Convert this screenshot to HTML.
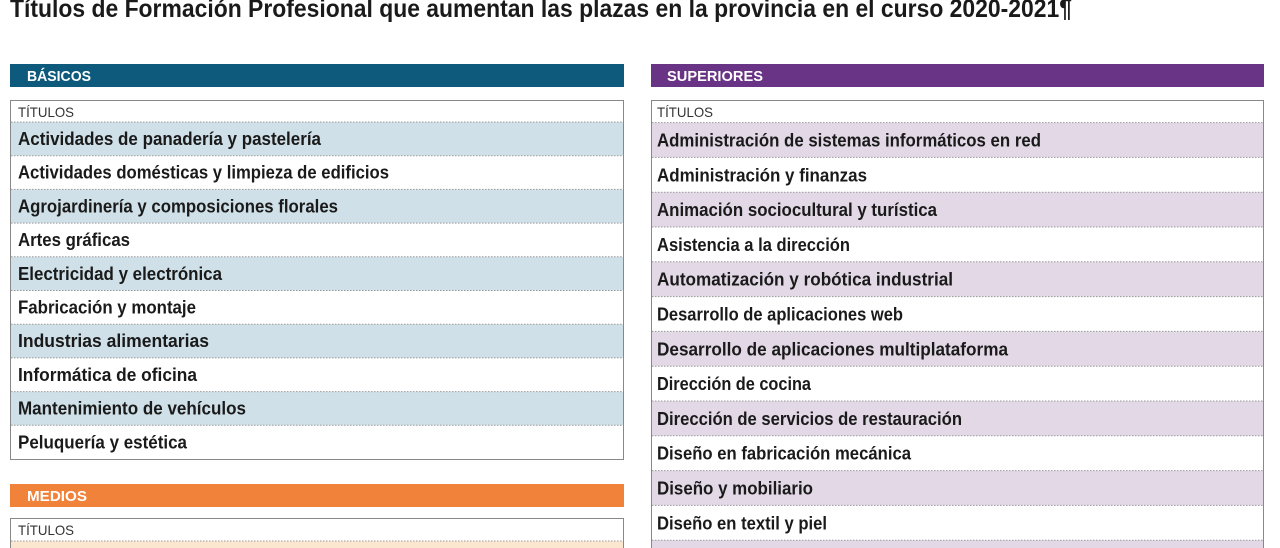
<!DOCTYPE html>
<html><head><meta charset="utf-8"><style>
html,body{margin:0;padding:0;background:#fff;width:1280px;height:548px;overflow:hidden}
svg{display:block}
.t{font-family:"Liberation Sans",sans-serif;font-weight:bold;font-size:18.5px;fill:#1a1a1a}
.h{font-family:"Liberation Sans",sans-serif;font-weight:bold;font-size:14.5px;fill:#fff}
.s{font-family:"Liberation Sans",sans-serif;font-size:14px;fill:#333}
</style></head><body>
<svg width="1280" height="548" xmlns="http://www.w3.org/2000/svg">
<text x="10" y="17" textLength="1062" lengthAdjust="spacingAndGlyphs" style="font-family:'Liberation Sans',sans-serif;font-weight:bold;font-size:25px;fill:#1a1a1a">Títulos de Formación Profesional que aumentan las plazas en la provincia en el curso 2020-2021¶</text>

<!-- BASICOS -->
<rect x="10" y="64" width="614" height="23" fill="#0d5a7c"/>
<text class="h" x="27" y="81" textLength="64" lengthAdjust="spacingAndGlyphs">BÁSICOS</text>
<rect x="10.5" y="100.5" width="613" height="359" fill="#fff" stroke="#888"/>
<text class="s" x="18" y="117" textLength="56" lengthAdjust="spacingAndGlyphs">TÍTULOS</text>
<g fill="#cfe0e8">
<rect x="11" y="122" width="612" height="33.7"/>
<rect x="11" y="189.4" width="612" height="33.7"/>
<rect x="11" y="256.8" width="612" height="33.7"/>
<rect x="11" y="324.2" width="612" height="33.7"/>
<rect x="11" y="391.6" width="612" height="33.7"/>
</g>
<g stroke="#999" stroke-dasharray="1.5,1.5">
<line x1="11" x2="623" y1="122" y2="122"/><line x1="11" x2="623" y1="155.7" y2="155.7"/>
<line x1="11" x2="623" y1="189.4" y2="189.4"/><line x1="11" x2="623" y1="223.1" y2="223.1"/>
<line x1="11" x2="623" y1="256.8" y2="256.8"/><line x1="11" x2="623" y1="290.5" y2="290.5"/>
<line x1="11" x2="623" y1="324.2" y2="324.2"/><line x1="11" x2="623" y1="357.9" y2="357.9"/>
<line x1="11" x2="623" y1="391.6" y2="391.6"/><line x1="11" x2="623" y1="425.3" y2="425.3"/>
</g>
<text class="t" x="18" y="145" textLength="303" lengthAdjust="spacingAndGlyphs">Actividades de panadería y pastelería</text>
<text class="t" x="18" y="178.7" textLength="371" lengthAdjust="spacingAndGlyphs">Actividades domésticas y limpieza de edificios</text>
<text class="t" x="18" y="212.4" textLength="320" lengthAdjust="spacingAndGlyphs">Agrojardinería y composiciones florales</text>
<text class="t" x="18" y="246.1" textLength="112" lengthAdjust="spacingAndGlyphs">Artes gráficas</text>
<text class="t" x="18" y="279.8" textLength="204" lengthAdjust="spacingAndGlyphs">Electricidad y electrónica</text>
<text class="t" x="18" y="313.5" textLength="178" lengthAdjust="spacingAndGlyphs">Fabricación y montaje</text>
<text class="t" x="18" y="347.2" textLength="191" lengthAdjust="spacingAndGlyphs">Industrias alimentarias</text>
<text class="t" x="18" y="380.9" textLength="179" lengthAdjust="spacingAndGlyphs">Informática de oficina</text>
<text class="t" x="18" y="414.6" textLength="228" lengthAdjust="spacingAndGlyphs">Mantenimiento de vehículos</text>
<text class="t" x="18" y="448.3" textLength="169" lengthAdjust="spacingAndGlyphs">Peluquería y estética</text>

<!-- MEDIOS -->
<rect x="10" y="484" width="614" height="23" fill="#f0823a"/>
<text class="h" x="27" y="501" textLength="60" lengthAdjust="spacingAndGlyphs">MEDIOS</text>
<rect x="10.5" y="518.5" width="613" height="40" fill="#fff" stroke="#888"/>
<text class="s" x="18" y="535" textLength="56" lengthAdjust="spacingAndGlyphs">TÍTULOS</text>
<rect x="11" y="541" width="612" height="10" fill="#fbe6cf"/>
<line x1="11" x2="623" y1="541" y2="541" stroke="#999" stroke-dasharray="1.5,1.5"/>

<!-- SUPERIORES -->
<rect x="651" y="64" width="613" height="23" fill="#6a3486"/>
<text class="h" x="667" y="81" textLength="96" lengthAdjust="spacingAndGlyphs">SUPERIORES</text>
<rect x="651.5" y="100.5" width="612" height="460" fill="#fff" stroke="#888"/>
<text class="s" x="657" y="117" textLength="56" lengthAdjust="spacingAndGlyphs">TÍTULOS</text>
<g fill="#e2d8e6">
<rect x="652" y="122.6" width="611" height="34.8"/>
<rect x="652" y="192.2" width="611" height="34.8"/>
<rect x="652" y="261.8" width="611" height="34.8"/>
<rect x="652" y="331.4" width="611" height="34.8"/>
<rect x="652" y="401" width="611" height="34.8"/>
<rect x="652" y="470.6" width="611" height="34.8"/>
<rect x="652" y="540.2" width="611" height="10"/>
</g>
<g stroke="#999" stroke-dasharray="1.5,1.5">
<line x1="652" x2="1263" y1="122.6" y2="122.6"/><line x1="652" x2="1263" y1="157.4" y2="157.4"/>
<line x1="652" x2="1263" y1="192.2" y2="192.2"/><line x1="652" x2="1263" y1="227" y2="227"/>
<line x1="652" x2="1263" y1="261.8" y2="261.8"/><line x1="652" x2="1263" y1="296.6" y2="296.6"/>
<line x1="652" x2="1263" y1="331.4" y2="331.4"/><line x1="652" x2="1263" y1="366.2" y2="366.2"/>
<line x1="652" x2="1263" y1="401" y2="401"/><line x1="652" x2="1263" y1="435.8" y2="435.8"/>
<line x1="652" x2="1263" y1="470.6" y2="470.6"/><line x1="652" x2="1263" y1="505.4" y2="505.4"/>
<line x1="652" x2="1263" y1="540.2" y2="540.2"/>
</g>
<text class="t" x="657" y="146.5" textLength="384" lengthAdjust="spacingAndGlyphs">Administración de sistemas informáticos en red</text>
<text class="t" x="657" y="181.3" textLength="210" lengthAdjust="spacingAndGlyphs">Administración y finanzas</text>
<text class="t" x="657" y="216.1" textLength="280" lengthAdjust="spacingAndGlyphs">Animación sociocultural y turística</text>
<text class="t" x="657" y="250.9" textLength="193" lengthAdjust="spacingAndGlyphs">Asistencia a la dirección</text>
<text class="t" x="657" y="285.7" textLength="296" lengthAdjust="spacingAndGlyphs">Automatización y robótica industrial</text>
<text class="t" x="657" y="320.5" textLength="246" lengthAdjust="spacingAndGlyphs">Desarrollo de aplicaciones web</text>
<text class="t" x="657" y="355.3" textLength="351" lengthAdjust="spacingAndGlyphs">Desarrollo de aplicaciones multiplataforma</text>
<text class="t" x="657" y="390.1" textLength="154" lengthAdjust="spacingAndGlyphs">Dirección de cocina</text>
<text class="t" x="657" y="424.9" textLength="305" lengthAdjust="spacingAndGlyphs">Dirección de servicios de restauración</text>
<text class="t" x="657" y="459.7" textLength="254" lengthAdjust="spacingAndGlyphs">Diseño en fabricación mecánica</text>
<text class="t" x="657" y="494.5" textLength="156" lengthAdjust="spacingAndGlyphs">Diseño y mobiliario</text>
<text class="t" x="657" y="529.3" textLength="170" lengthAdjust="spacingAndGlyphs">Diseño en textil y piel</text>
</svg>
</body></html>
